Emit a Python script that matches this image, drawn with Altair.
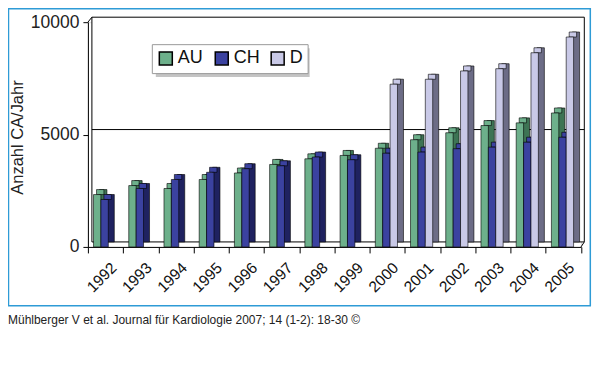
import altair as alt
import pandas as pd

# ---- data ----
years = [str(y) for y in range(1992, 2006)]
au = [2330, 2730, 2600, 3000, 3290, 3670, 3920, 4070, 4390, 4770, 5080, 5400, 5520, 5960]
ch = [2110, 2600, 3000, 3320, 3480, 3610, 4000, 3880, 4170, 4220, 4370, 4440, 4660, 4880]
d = [None] * 8 + [7240, 7460, 7830, 7930, 8640, 9340]
series = ["AU", "CH", "D"]
y_ticks = [0, 5000, 10000]
y_title = "Anzahl CA/Jahr"
caption = "Mühlberger V et al. Journal für Kardiologie 2007; 14 (1-2): 18-30 ©"

# ---- styles ----
face_colors = ["#6db08b", "#3b42a0", "#c9c9e7"]
side_colors = ["#3d7454", "#1f2260", "#6c6c86"]
slot_offsets = [-8.3, -0.9, 6.5]
BAR_W = 7.4
DX, DY = 6, -5
W, H = 493.7, 225
FONT = "Liberation Sans"

rows = []
for s, vals in zip(series, [au, ch, d]):
    for yr, v in zip(years, vals):
        if v is not None:
            rows.append({"year": yr, "series": s, "value": v})
df = pd.DataFrame(rows)

x_enc = alt.X(
    "year:O",
    scale=alt.Scale(domain=years, paddingInner=0, paddingOuter=0),
    axis=alt.Axis(
        title=None, tickBand="extent", tickSize=6, tickColor="black",
        domainColor="black", labelAngle=-45, labelAlign="right",
        labelBaseline="middle", labelOffset=8, labelPadding=12,
        labelFontSize=15.5, labelColor="#111", labelFont=FONT,
    ),
)
y_enc = alt.Y(
    "value:Q",
    scale=alt.Scale(domain=[0, 10000], nice=False),
    axis=alt.Axis(
        values=y_ticks, format="d", grid=False, tickSize=5, tickColor="black",
        domainColor="black", labelFontSize=17.5, labelPadding=4,
        labelColor="#222", labelFont=FONT, title=y_title,
        titleFontSize=16.5, titleFontWeight="normal", titleColor="#222",
        titleFont=FONT, titleX=-62, titleY=115,
    ),
)
color_enc = alt.Color(
    "series:N",
    scale=alt.Scale(domain=series, range=face_colors),
    legend=alt.Legend(
        title=None, orient="none", legendX=64, legendY=22, direction="horizontal",
        symbolType="square", symbolSize=169, labelFontSize=18, labelFont=FONT,
        labelColor="#111", labelOffset=3, columnPadding=8, padding=5,
        fillColor="white", strokeColor="#999",
    ),
)

base = alt.Chart(df)

# back wall, grid line and edges
wall = alt.Chart(pd.DataFrame({"a": [0]})).mark_rect(
    fill="white", stroke="black", strokeWidth=1
).encode(x=alt.value(4), x2=alt.value(W + 3.3), y=alt.value(-5), y2=alt.value(H - 5))
grid = alt.Chart(pd.DataFrame({"a": [0]})).mark_rule(
    color="black", strokeWidth=1, yOffset=-5
).encode(y=alt.datum(5000), x=alt.value(4), x2=alt.value(W + 3.3))
diag1 = alt.Chart(pd.DataFrame({"a": [0]})).mark_rule(color="black").encode(
    x=alt.value(0), x2=alt.value(4), y=alt.value(0), y2=alt.value(-5))
diag2 = alt.Chart(pd.DataFrame({"a": [0]})).mark_rule(color="black").encode(
    x=alt.value(W), x2=alt.value(W + 3.3), y=alt.value(H), y2=alt.value(H - 5))
shadow = alt.Chart(pd.DataFrame({"a": [0]})).mark_rect(fill="#c4c4c4").encode(
    x=alt.value(68), x2=alt.value(222), y=alt.value(26), y2=alt.value(55))

sides, tops, fronts = [], [], []
for s, fc, sc, off in zip(series, face_colors, side_colors, slot_offsets):
    sub = base.transform_filter(alt.datum.series == s)
    sides.append(
        sub.mark_bar(width=BAR_W, xOffset=off + DX, yOffset=DY, y2Offset=DY,
                     color=sc, stroke="black", strokeWidth=0.6)
        .encode(x=x_enc, y=y_enc, y2=alt.datum(0))
    )
    tops.append(
        sub.mark_bar(width=BAR_W, xOffset=off + DX / 2, yOffset=DY, y2Offset=0,
                     color=fc, stroke="black", strokeWidth=0.6)
        .encode(x=x_enc, y=y_enc, y2=alt.Y2("value:Q"))
    )
    fronts.append(
        sub.mark_bar(width=BAR_W, xOffset=off, stroke="black", strokeWidth=0.6)
        .encode(x=x_enc, y=y_enc, color=color_enc)
    )

border = alt.Chart(pd.DataFrame({"a": [0]})).mark_rect(
    filled=False, stroke="#2e9bd6", strokeWidth=1.5
).encode(x=alt.value(-79.5), x2=alt.value(503), y=alt.value(-13.5), y2=alt.value(284))
cap = alt.Chart(pd.DataFrame({"t": [caption]})).mark_text(
    align="left", baseline="middle", font=FONT, fontSize=12, color="#222"
).encode(x=alt.value(-80), y=alt.value(298), text="t:N")

chart = alt.layer(
    wall, grid, diag1, diag2, shadow, *sides, *tops, *fronts, border, cap
).properties(
    width=W, height=H,
    autosize=alt.AutoSizeParams(type="none"),
    padding={"left": 80, "top": 14, "right": 11, "bottom": 100},
).configure_view(stroke=None).configure(font=FONT)

chart.save("out.html", embed_options={"renderer": "svg", "actions": False})
